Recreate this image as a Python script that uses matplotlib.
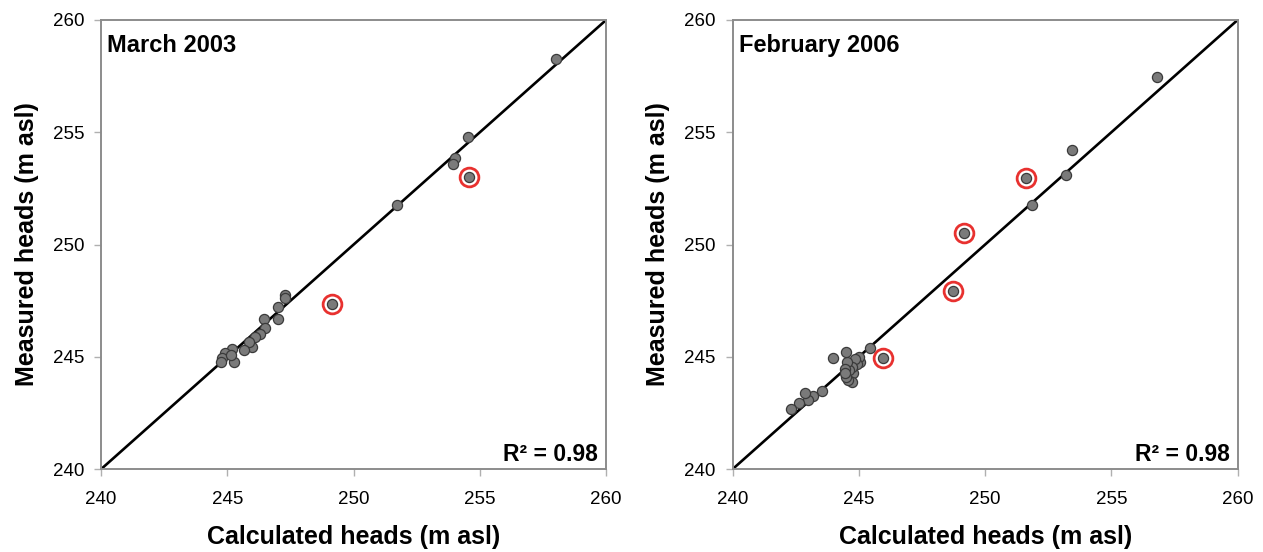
import matplotlib
matplotlib.use("Agg")
import matplotlib.pyplot as plt

plt.rcParams['font.family'] = ['Liberation Sans', 'DejaVu Sans']

# March 2003: calculated vs measured heads (m asl)
mar_calc = [258.0, 254.54, 254.0, 253.94, 251.7,
            247.3, 247.3, 247.0, 247.0, 246.44, 246.5, 246.3, 246.1, 245.98,
            245.85, 245.67, 245.18, 244.9, 244.8, 245.25, 245.15, 244.75]
mar_meas = [258.26, 254.8, 253.84, 253.59, 251.75,
            247.75, 247.6, 247.2, 246.7, 246.7, 246.3, 246.0, 245.9, 245.45,
            245.67, 245.3, 245.33, 245.15, 244.93, 244.78, 245.08, 244.78]
mar_out_calc = [254.56, 249.13]
mar_out_meas = [253.0, 247.35]

# February 2006
feb_calc = [256.79, 253.43, 253.2, 251.86,
            245.46, 245.06, 244.99, 244.92, 244.86, 244.75, 244.72, 244.72,
            244.62, 244.58, 244.54, 244.49, 244.49, 244.44, 244.44, 243.96,
            243.53, 243.17, 243.0, 242.86, 242.63, 242.33]
feb_meas = [257.45, 254.2, 253.1, 251.75,
            245.38, 244.78, 244.98, 244.7, 244.89, 244.26, 244.56, 243.89,
            244.41, 243.96, 244.78, 245.22, 244.11, 244.48, 244.26, 244.95,
            243.47, 243.25, 243.07, 243.37, 242.95, 242.66]
feb_out_calc = [251.63, 249.17, 248.74, 245.94]
feb_out_meas = [252.98, 250.5, 247.95, 244.95]

panels = [
    ("March 2003", mar_calc, mar_meas, mar_out_calc, mar_out_meas, "R² = 0.98"),
    ("February 2006", feb_calc, feb_meas, feb_out_calc, feb_out_meas, "R² = 0.98"),
]
lims = [240, 260]
ticks = [240, 245, 250, 255, 260]

fig = plt.figure(figsize=(12.63, 5.52), dpi=100)
axes = [fig.add_axes([0.080, 0.150, 0.400, 0.814]),
        fig.add_axes([0.580, 0.150, 0.400, 0.814])]

for ax, (title, xc, ym, xo, yo, r2) in zip(axes, panels):
    ax.plot(lims, lims, color='black', lw=1.9, zorder=2)
    ax.plot(xo, yo, 'o', ms=13.5, mfc='white', mec='#e8312f', mew=2.0, zorder=3)
    ax.plot(xc + xo, ym + yo, 'o', ms=7.3, mfc='#7a7a7a', mec='#3a3a3a', mew=0.9,
            linestyle='none', zorder=4)
    ax.set_xlim(lims)
    ax.set_ylim(lims)
    ax.set_xticks(ticks)
    ax.set_yticks(ticks)
    ax.tick_params(labelsize=13.5, color='#b0b0b0', length=5, width=1,
                   direction='out')
    ax.tick_params(axis='x', pad=11)
    ax.tick_params(axis='y', pad=7)
    for s in ax.spines.values():
        s.set_color('#8c8c8c')
        s.set_linewidth(1.4)
    ax.set_xlabel("Calculated heads (m asl)", fontsize=18, fontweight='bold', labelpad=12)
    ax.set_ylabel("Measured heads (m asl)", fontsize=18, fontweight='bold', labelpad=10)
    ax.text(0.012, 0.942, title, transform=ax.transAxes, fontsize=17,
            fontweight='bold', ha='left', va='center')
    ax.text(0.984, 0.033, r2, transform=ax.transAxes, fontsize=16.5,
            fontweight='bold', ha='right', va='center')

fig.savefig("out.png", dpi=100)
